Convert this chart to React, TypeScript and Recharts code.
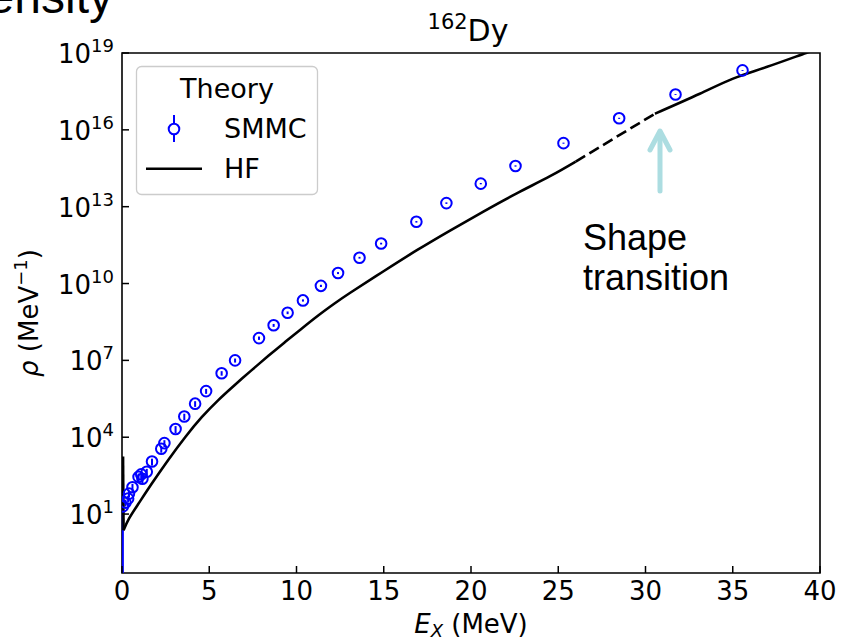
import React from 'react';
import { ComposedChart, XAxis, YAxis, Line, Scatter, ErrorBar, ReferenceArea } from 'recharts';

// ---- axis ticks ----
const xTicks = [0, 5, 10, 15, 20, 25, 30, 35, 40];
const yTickExponents = [1, 4, 7, 10, 13, 16, 19];

// ---- SMMC (blue open circles with error bars) ----
const smmcEnergy = [0.05, 0.2, 0.35, 0.4, 0.6, 0.95, 1.1, 1.17, 1.42, 1.72, 2.25, 2.43, 3.07, 3.57, 4.19, 4.82, 5.71, 6.48, 7.85, 8.69, 9.49, 10.37, 11.4, 12.38, 13.61, 14.85, 16.87, 18.59, 20.56, 22.55, 25.3, 28.49, 31.72, 35.56];
const smmcDensity = [20, 28, 40, 63, 112, 282, 355, 240, 447, 1.12e3, 3.55e3, 5.89e3, 2.09e4, 6.46e4, 2.04e5, 6.31e5, 3.16e6, 1.0e7, 7.41e7, 2.34e8, 7.24e8, 2.19e9, 8.13e9, 2.57e10, 1.02e11, 3.63e11, 2.57e12, 1.38e13, 7.94e13, 3.89e14, 3.02e15, 2.82e16, 2.4e17, 2.09e18];
const smmcRelErrLow = [0.9975, 0.3, 0.3, 0.3, 0.35, 0.35, 0.35, 0.35, 0.3, 0.3, 0.3, 0.3, 0.3, 0.28, 0.25, 0.22, 0.2, 0.18, 0.15, 0.13, 0.12, 0.1, 0.1, 0.09, 0.08, 0.08, 0.07, 0.07, 0.06, 0.06, 0.05, 0.05, 0.04, 0.04];
const smmcRelErrHigh = [3.0, 0.3, 0.3, 0.3, 0.35, 0.35, 0.35, 0.35, 0.3, 0.3, 0.3, 0.3, 0.3, 0.28, 0.25, 0.22, 0.2, 0.18, 0.15, 0.13, 0.12, 0.1, 0.1, 0.09, 0.08, 0.08, 0.07, 0.07, 0.06, 0.06, 0.05, 0.05, 0.04, 0.04];

// ---- HF (black line: spike at E=0, solid / dashed / solid) ----
const hfSpikeEnergy = [0.06, 0.09];
const hfSpikeDensity = [1.78e3, 2.34];
const hfLowEnergy = [0.09, 0.4, 0.94, 1.71, 2.66, 3.62, 4.57, 5.52, 6.48, 7.4, 8.39, 9.3, 10.22, 11.3, 12.2, 13.08, 14.99, 16.9, 18.8, 20.71, 22.62, 24.53, 26.0];
const hfLowDensity = [2.34, 6.61, 25.1, 155, 1.32e3, 1.0e4, 6.03e4, 2.82e5, 1.12e6, 3.98e6, 1.5e7, 4.9e7, 1.58e8, 6.03e8, 1.7e9, 4.37e9, 3.02e10, 2.0e11, 1.17e12, 6.46e12, 3.31e13, 1.55e14, 5.75e14];
const hfDashEnergy = [26.0, 28.3, 30.54];
const hfDashDensity = [5.75e14, 5.13e15, 4.27e16];
const hfHighEnergy = [30.54, 33.11, 35.02, 36.93, 39.2, 40];
const hfHighDensity = [4.27e16, 2.57e17, 1.0e18, 2.82e18, 1.0e19, 1.51e19];

const smmcData = smmcEnergy.map((x, i) => ({
  x,
  y: smmcDensity[i],
  err: [smmcDensity[i] * smmcRelErrLow[i], smmcDensity[i] * smmcRelErrHigh[i]],
}));
const toPairs = (xs: number[], ys: number[]) => xs.map((x, i) => ({ x, y: ys[i] }));
const hfSpike = toPairs(hfSpikeEnergy, hfSpikeDensity);
const hfLow = toPairs(hfLowEnergy, hfLowDensity);
const hfDash = toPairs(hfDashEnergy, hfDashDensity);
const hfHigh = toPairs(hfHighEnergy, hfHighDensity);

const FONT = '"DejaVu Sans", sans-serif';
const ARIAL = '"Liberation Sans", Arial, sans-serif';
const BLUE = '#0000ff';

const XTick = (props: any) => {
  const { x, y, payload } = props;
  return (
    <g>
      <line x1={x} y1={y} x2={x} y2={y - 7} stroke="#000" strokeWidth={1.5} />
      <text x={x} y={y + 27} textAnchor="middle" fontFamily={FONT} fontSize={26} fill="#000">
        {payload.value}
      </text>
    </g>
  );
};

const YTick = (props: any) => {
  const { x, y, payload } = props;
  const exp = Math.round(Math.log10(payload.value));
  return (
    <g>
      <line x1={x} y1={y} x2={x + 7} y2={y} stroke="#000" strokeWidth={1.5} />
      <text x={x - 8} y={y + 10} textAnchor="end" fontFamily={FONT} fontSize={26} fill="#000">
        <tspan>10</tspan>
        <tspan dy={-11} fontSize={18}>{exp}</tspan>
      </text>
    </g>
  );
};

const CircleShape = (props: any) => {
  const { cx, cy } = props;
  if (cx == null || cy == null) return null;
  return <circle cx={cx} cy={cy} r={5.3} fill="none" stroke={BLUE} strokeWidth={2} />;
};

export default function App() {
  return (
    <div style={{ position: 'absolute', left: 0, top: 0, width: 854, height: 641, background: '#fff' }}>
      <ComposedChart
        width={854}
        height={641}
        margin={{ top: 53, right: 34, bottom: 0, left: 0 }}
        style={{ fontFamily: FONT }}
      >
        <XAxis
          type="number"
          dataKey="x"
          domain={[0, 40]}
          ticks={xTicks}
          allowDataOverflow
          height={68}
          tickSize={0}
          tickMargin={0}
          axisLine={false}
          tickLine={false}
          tick={<XTick />}
          interval={0}
        />
        <YAxis
          type="number"
          dataKey="y"
          scale="log"
          domain={[0.05, 1e19]}
          ticks={yTickExponents.map((e) => Math.pow(10, e))}
          allowDataOverflow
          width={122}
          tickSize={0}
          tickMargin={0}
          axisLine={false}
          tickLine={false}
          tick={<YTick />}
          interval={0}
        />
        <Scatter data={smmcData} dataKey="y" shape={<CircleShape />} isAnimationActive={false}>
          <ErrorBar dataKey="err" direction="y" width={0} stroke={BLUE} strokeWidth={2} />
        </Scatter>
        <Line data={hfSpike} dataKey="y" type="linear" stroke="#000" strokeWidth={2.6} dot={false} isAnimationActive={false} />
        <Line data={hfLow} dataKey="y" type="natural" stroke="#000" strokeWidth={2.6} dot={false} isAnimationActive={false} />
        <Line data={hfDash} dataKey="y" type="linear" stroke="#000" strokeWidth={2.6} strokeDasharray="11 5" dot={false} isAnimationActive={false} />
        <Line data={hfHigh} dataKey="y" type="natural" stroke="#000" strokeWidth={2.6} dot={false} isAnimationActive={false} />
        <ReferenceArea x1={0} x2={40} y1={0.05} y2={1e19} fill="none" stroke="#000" strokeWidth={1.6} ifOverflow="visible" />
      </ComposedChart>
      <svg
        width={854}
        height={641}
        style={{ position: 'absolute', left: 0, top: 0, pointerEvents: 'none' }}
      >
        {/* partial slide heading, cut by the top edge as in the reference */}
        <text x={113} y={13} textAnchor="end" fontFamily={ARIAL} fontSize={48} fill="#000">
          Density
        </text>
        {/* title */}
        <text x={468} y={41} textAnchor="middle" fontFamily={FONT} fontSize={30} fill="#000">
          <tspan fontSize={21} dy={-12}>162</tspan>
          <tspan dy={12}>Dy</tspan>
        </text>
        {/* x label */}
        <text x={471} y={633} textAnchor="middle" fontFamily={FONT} fontSize={26} fill="#000">
          <tspan fontStyle="italic">E</tspan>
          <tspan fontStyle="italic" fontSize={18} dy={4}>X</tspan>
          <tspan dy={-4}> (MeV)</tspan>
        </text>
        {/* y label */}
        <text x={38} y={313} transform="rotate(-90 38 313)" textAnchor="middle" fontFamily={FONT} fontSize={26} fill="#000">
          <tspan fontStyle="italic">ρ</tspan>
          <tspan> (MeV</tspan>
          <tspan fontSize={18} dy={-11}>−1</tspan>
          <tspan dy={11}>)</tspan>
        </text>
        {/* legend */}
        <rect x={136.5} y={66.5} width={181} height={128} rx={5} ry={5} fill="#fff" fillOpacity={0.85} stroke="#cccccc" strokeWidth={1.3} />
        <text x={227} y={98} textAnchor="middle" fontFamily={FONT} fontSize={27} fill="#000">Theory</text>
        <line x1={174} y1={115} x2={174} y2={142} stroke={BLUE} strokeWidth={2} />
        <circle cx={174} cy={129} r={5.3} fill="#fff" stroke={BLUE} strokeWidth={2} />
        <text x={224} y={138} fontFamily={FONT} fontSize={27} fill="#000">SMMC</text>
        <line x1={146} y1={168.7} x2={202} y2={168.7} stroke="#000" strokeWidth={2.6} />
        <text x={224} y={178} fontFamily={FONT} fontSize={27} fill="#000">HF</text>
        {/* shape transition annotation */}
        <g stroke="#acdde1" strokeWidth={5} strokeLinecap="round" strokeLinejoin="round" fill="none">
          <line x1={660} y1={191} x2={660} y2={133} />
          <polyline points="650,150 660,131 670,150" />
        </g>
        <text x={583} y={250} fontFamily={ARIAL} fontSize={36} fill="#000">Shape</text>
        <text x={583} y={290} fontFamily={ARIAL} fontSize={36} fill="#000">transition</text>
      </svg>
    </div>
  );
}
